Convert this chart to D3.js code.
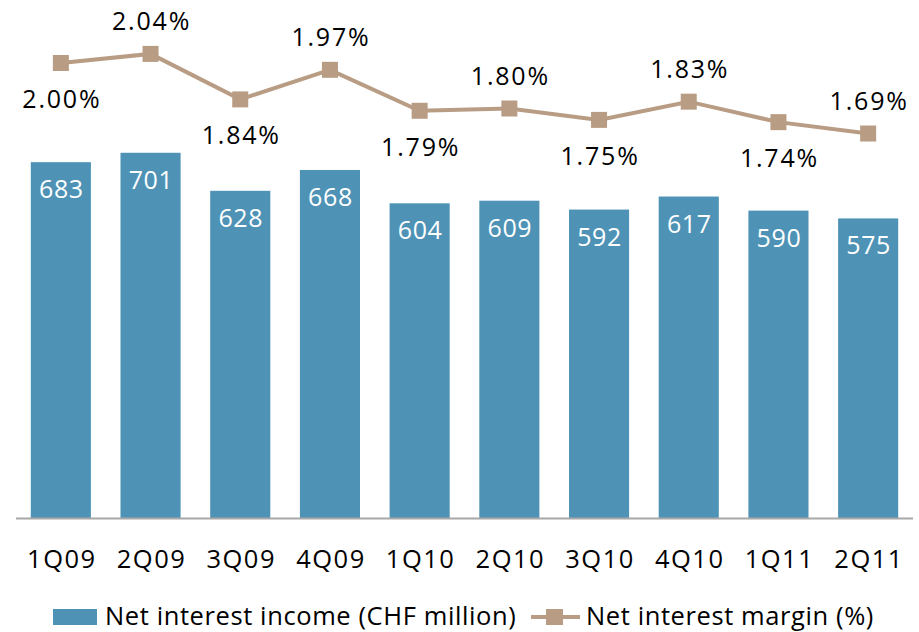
<!DOCTYPE html>
<html>
<head>
<meta charset="utf-8">
<script src="https://cdn.jsdelivr.net/npm/d3@7"></script>
<style>
  body { margin: 0; background: #fff; }
  text { font-family: "Open Sans", "Noto Sans", sans-serif; }
</style>
</head>
<body>
<div id="chart"></div>
<script>
const quarters = ["1Q09", "2Q09", "3Q09", "4Q09", "1Q10", "2Q10", "3Q10", "4Q10", "1Q11", "2Q11"];
const income = [683, 701, 628, 668, 604, 609, 592, 617, 590, 575];
const margin = [2.00, 2.04, 1.84, 1.97, 1.79, 1.80, 1.75, 1.83, 1.74, 1.69];
// which margin labels sit above the marker
const labelAbove = [false, true, false, true, false, true, false, true, false, true];

const width = 919, height = 632;
const barColor = "#4e93b6", lineColor = "#b89c84";

const svg = d3.select("#chart").append("svg")
    .attr("width", width)
    .attr("height", height);

const x = d3.scaleBand()
    .domain(quarters)
    .range([16, 913])
    .paddingInner(0.33)
    .paddingOuter(0.165);

const y = d3.scaleLinear().domain([0, 800]).range([518, 101.2]);
const y2 = d3.scaleLinear().domain([0, 2.2]).range([518, 17.5]);

const cx = i => x(quarters[i]) + x.bandwidth() / 2;

// bars
svg.append("g").selectAll("rect")
    .data(income)
  .enter().append("rect")
    .attr("x", (d, i) => x(quarters[i]))
    .attr("y", d => y(d))
    .attr("width", x.bandwidth())
    .attr("height", d => y(0) - y(d))
    .attr("fill", barColor);

svg.append("g").selectAll("text")
    .data(income)
  .enter().append("text")
    .attr("x", (d, i) => cx(i) + 0.5)
    .attr("y", d => y(d) + 36)
    .attr("text-anchor", "middle")
    .attr("fill", "#fff")
    .style("font-size", "25px")
    .style("letter-spacing", "0.6px")
    .text(d => d);

// x axis
svg.append("line")
    .attr("x1", 16).attr("x2", 913)
    .attr("y1", 518.5).attr("y2", 518.5)
    .attr("stroke", "#a8a8a8")
    .attr("stroke-width", 2);

svg.append("g").selectAll("text")
    .data(quarters)
  .enter().append("text")
    .attr("x", d => x(d) + x.bandwidth() / 2 + 1)
    .attr("y", 568)
    .attr("text-anchor", "middle")
    .attr("fill", "#000")
    .style("font-size", "25.5px")
    .style("letter-spacing", "1.5px")
    .text(d => d);

// margin line
const line = d3.line()
    .x((d, i) => cx(i))
    .y(d => y2(d));

svg.append("path")
    .datum(margin)
    .attr("d", line)
    .attr("fill", "none")
    .attr("stroke", lineColor)
    .attr("stroke-width", 4);

svg.append("g").selectAll("rect")
    .data(margin)
  .enter().append("rect")
    .attr("x", (d, i) => cx(i) - 8)
    .attr("y", d => y2(d) - 8)
    .attr("width", 16)
    .attr("height", 16)
    .attr("fill", lineColor);

svg.append("g").selectAll("text")
    .data(margin)
  .enter().append("text")
    .attr("x", (d, i) => cx(i) + 1)
    .attr("y", (d, i) => labelAbove[i] ? y2(d) - 24 : y2(d) + 45)
    .attr("text-anchor", "middle")
    .attr("fill", "#000")
    .style("font-size", "25px")
    .style("letter-spacing", "1.8px")
    .text(d => d3.format(".2f")(d) + "%");

// legend
const lg = svg.append("g");
lg.append("rect")
    .attr("x", 53).attr("y", 609)
    .attr("width", 44).attr("height", 16)
    .attr("fill", barColor);
lg.append("text")
    .attr("x", 105).attr("y", 625)
    .style("font-size", "25.5px")
    .style("letter-spacing", "0.6px")
    .text("Net interest income (CHF million)");
lg.append("line")
    .attr("x1", 531).attr("x2", 580)
    .attr("y1", 617).attr("y2", 617)
    .attr("stroke", lineColor)
    .attr("stroke-width", 4);
lg.append("rect")
    .attr("x", 546).attr("y", 609)
    .attr("width", 17).attr("height", 16)
    .attr("fill", lineColor);
lg.append("text")
    .attr("x", 586).attr("y", 625)
    .style("font-size", "25.5px")
    .style("letter-spacing", "0.6px")
    .text("Net interest margin (%)");
</script>
</body>
</html>
